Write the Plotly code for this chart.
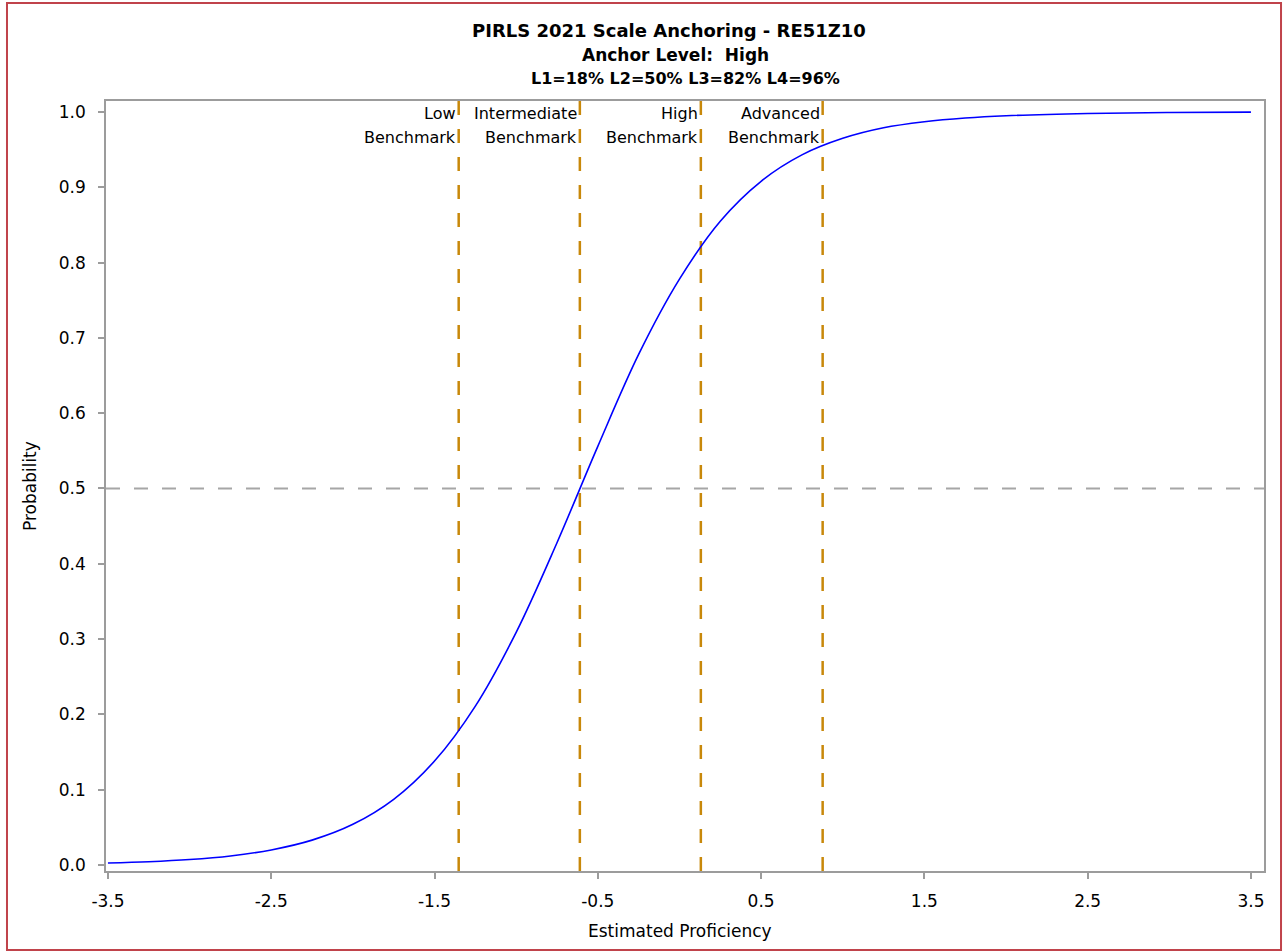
import plotly.graph_objects as go

# Item characteristic curve
proficiency = [-3.5, -3.25, -3.0, -2.75, -2.5, -2.25, -2.0, -1.75, -1.5, -1.25,
               -1.0, -0.75, -0.5, -0.25, 0.0, 0.25, 0.5, 0.75, 1.0, 1.25,
               1.5, 1.75, 2.0, 2.5, 3.0, 3.5]
probability = [0.0026, 0.0043, 0.0072, 0.0120, 0.0200, 0.0330, 0.0540, 0.0872, 0.138, 0.211,
               0.309, 0.428, 0.556, 0.678, 0.778, 0.855, 0.908, 0.943, 0.965, 0.979,
               0.987, 0.992, 0.995, 0.998, 0.9994, 0.9998]

benchmark_top = ["Low", "Intermediate", "High", "Advanced"]
benchmark_bottom = ["Benchmark", "Benchmark", "Benchmark", "Benchmark"]
benchmark_x = [-1.352, -0.610, 0.131, 0.877]

x_ticks = [-3.5, -2.5, -1.5, -0.5, 0.5, 1.5, 2.5, 3.5]
y_ticks = [0.0, 0.1, 0.2, 0.3, 0.4, 0.5, 0.6, 0.7, 0.8, 0.9, 1.0]

title_lines = ["PIRLS 2021 Scale Anchoring - RE51Z10",
               "Anchor Level:  High",
               "L1=18% L2=50% L3=82% L4=96%"]

FONT = "DejaVu Sans"
AXIS_GREY = "#9c9c9c"
ORANGE = "#C8880A"
TEXT = "#000"

fig = go.Figure()
fig.add_trace(go.Scatter(x=proficiency, y=probability, mode="lines",
                         line=dict(color="#0000FF", width=1.6, shape="spline", smoothing=1.0),
                         showlegend=False, hoverinfo="skip"))

shapes = []
shapes.append(dict(type="line", xref="paper", yref="y", x0=0, x1=1, y0=0.5, y1=0.5,
                   line=dict(color="#a6a6a6", width=2, dash="14px,14px"), layer="below"))
annotations = []
for top, bottom, bx in zip(benchmark_top, benchmark_bottom, benchmark_x):
    shapes.append(dict(type="line", xref="x", yref="paper", x0=bx, x1=bx, y0=0, y1=1,
                       line=dict(color=ORANGE, width=2.5, dash="14px,14px"), layer="below"))
    for txt, ty in ((top, 0.9844), (bottom, 0.9532)):
        annotations.append(dict(x=bx, y=ty, xref="x", yref="paper", text=txt,
                                showarrow=False, xanchor="right", yanchor="middle",
                                xshift=-1, font=dict(family=FONT, size=16, color=TEXT)))
shapes.append(dict(type="rect", xref="paper", yref="paper",
                   x0=-0.0855, x1=1.0147, y0=-0.1026, y1=1.1273,
                   line=dict(color="#C0434B", width=2)))

title_x = [0.4862, 0.4922, 0.5000]
title_y = [1.0916, 1.0597, 1.0286]
title_sizes = [18, 17, 16]
for t, tx, ty, ts in zip(title_lines, title_x, title_y, title_sizes):
    annotations.append(dict(x=tx, y=ty, xref="paper", yref="paper", text="<b>" + t + "</b>",
                            showarrow=False, xanchor="center", yanchor="middle",
                            font=dict(family=FONT, size=ts, color="#000")))

# axis titles
annotations.append(dict(x=0.4957, y=-0.0779, xref="paper", yref="paper",
                        text="Estimated Proficiency", showarrow=False,
                        xanchor="center", yanchor="middle",
                        font=dict(family=FONT, size=17, color=TEXT)))
annotations.append(dict(x=-0.0656, y=0.5, xref="paper", yref="paper",
                        text="Probability", showarrow=False, textangle=-90,
                        xanchor="center", yanchor="middle",
                        font=dict(family=FONT, size=17, color=TEXT)))

fig.update_layout(
    width=1283, height=952,
    margin=dict(l=106, r=19, t=101, b=81),
    paper_bgcolor="white", plot_bgcolor="white",
    font=dict(family=FONT, size=17, color=TEXT),
    shapes=shapes, annotations=annotations,
    xaxis=dict(range=[-3.512, 3.58], tickvals=x_ticks, ticktext=[str(v) for v in x_ticks],
               showgrid=False, zeroline=False, showline=True, mirror=True,
               linecolor=AXIS_GREY, linewidth=1.5, ticks="outside", ticklen=6,
               tickcolor=AXIS_GREY, tickwidth=1.5, ticklabelstandoff=8,
               tickfont=dict(family=FONT, size=17, color=TEXT)),
    yaxis=dict(range=[-0.008, 1.0146], tickvals=y_ticks, ticktext=["%.1f" % v for v in y_ticks],
               showgrid=False, zeroline=False, showline=True, mirror=True,
               linecolor=AXIS_GREY, linewidth=1.5, ticks="outside", ticklen=6,
               tickcolor=AXIS_GREY, tickwidth=1.5, ticklabelstandoff=9,
               tickfont=dict(family=FONT, size=17, color=TEXT)),
)

fig.write_html("out.html", config={"displayModeBar": False},
               post_script="document.body.style.margin='0';")
